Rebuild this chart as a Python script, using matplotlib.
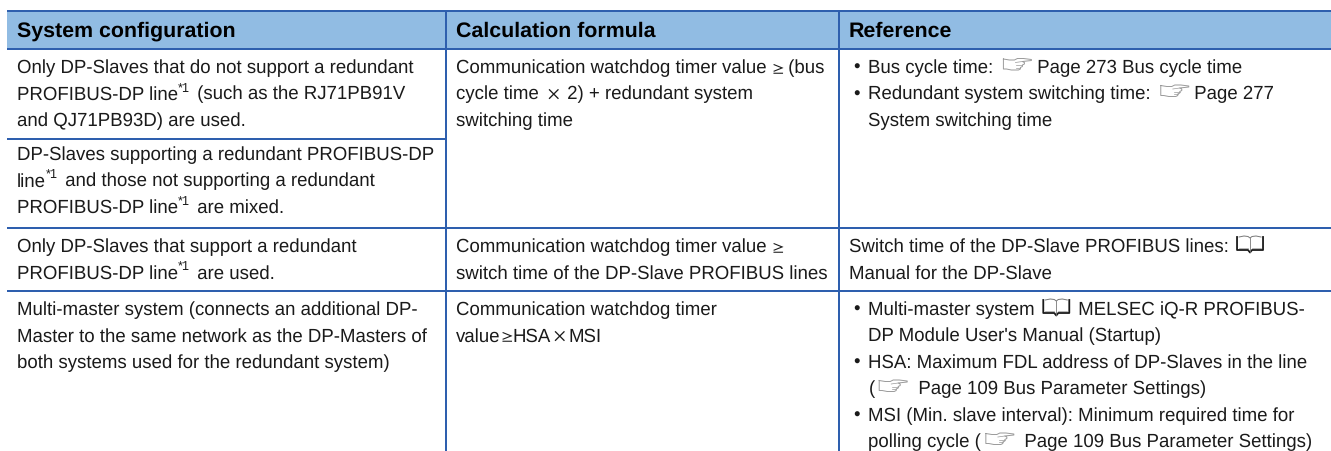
import re
import matplotlib
matplotlib.use('Agg')
import matplotlib.pyplot as plt
from matplotlib.font_manager import FontProperties

plt.rcParams['text.hinting'] = 'none'

# table contents, one list of wrapped lines per cell
headers = ['System configuration', 'Calculation formula', 'Reference']

config_cells = [
    ['Only DP-Slaves that do not support a redundant',
     'PROFIBUS-DP line*1 (such as the RJ71PB91V',
     'and QJ71PB93D) are used.'],
    ['DP-Slaves supporting a redundant PROFIBUS-DP',
     'line*1 and those not supporting a redundant',
     'PROFIBUS-DP line*1 are mixed.'],
    ['Only DP-Slaves that support a redundant',
     'PROFIBUS-DP line*1 are used.'],
    ['Multi-master system (connects an additional DP-',
     'Master to the same network as the DP-Masters of',
     'both systems used for the redundant system)'],
]
formula_cells = [
    ['Communication watchdog timer value ≥ (bus',
     'cycle time × 2) + redundant system',
     'switching time'],
    ['Communication watchdog timer value ≥',
     'switch time of the DP-Slave PROFIBUS lines'],
    ['Communication watchdog timer',
     'value≥HSA×MSI'],
]
reference_cells = [
    ['• Bus cycle time: ☞ Page 273 Bus cycle time',
     '• Redundant system switching time: ☞ Page 277',
     '  System switching time'],
    ['Switch time of the DP-Slave PROFIBUS lines: 📖',
     'Manual for the DP-Slave'],
    ['• Multi-master system 📖 MELSEC iQ-R PROFIBUS-',
     '  DP Module User\'s Manual (Startup)',
     '• HSA: Maximum FDL address of DP-Slaves in the line',
     '  (☞  Page 109 Bus Parameter Settings)',
     '• MSI (Min. slave interval): Minimum required time for',
     '  polling cycle (☞  Page 109 Bus Parameter Settings)'],
]

W, H = 1331, 452
LINE_COLOR = '#2E5FAE'
HEAD_COLOR = '#91BCE3'
TEXT_COLOR = '#1A1A1A'
BODY_PX = 18.65
HEAD_PX = 21.4
LINE_STEP = 26.5

fig = plt.figure(figsize=(W / 100, H / 100), dpi=100)
ax = fig.add_axes([0, 0, 1, 1])
ax.set_xlim(0, W)
ax.set_ylim(H, 0)
ax.axis('off')

renderer = fig.canvas.get_renderer()
px = 0.72  # pixels to points at 100 dpi
body_font = FontProperties(family='Liberation Sans', size=BODY_PX * px)
ge_font = FontProperties(family='Noto Sans CJK JP', size=12.5 * px)
times_font = FontProperties(family='Noto Sans CJK JP', size=15.5 * px)
sup_font = FontProperties(family='Liberation Sans', size=12.7 * px)


def text_width(s, font):
    # a dot on the end so trailing spaces are counted
    w1 = renderer.get_text_width_height_descent(s + '.', font, False)[0]
    w2 = renderer.get_text_width_height_descent('.', font, False)[0]
    return w1 - w2


def draw_hand(x, base):
    # outline of the pointing hand, 28 px wide and 12 px tall
    xs = [0, 6, 11, 14, 20, 28, 28, 19, 21, 21, 19, 19, 17, 17, 15, 8, 3, 0, 0]
    ys = [-13, -12, -12, -13.5, -13.5, -12.5, -11.5, -10.5, -9.5, -8, -7, -5.5, -4.5, -3, -2, -2, -3, -3, -13]
    ax.plot([x + a for a in xs], [base + b for b in ys], color='#9A9A9A', lw=0.7)
    ax.plot([x + 12, x + 19], [base - 9.5, base - 10.5], color='#9A9A9A', lw=0.5)
    ax.plot([x + 13, x + 19], [base - 7, base - 7], color='#9A9A9A', lw=0.5)
    ax.plot([x + 13, x + 17], [base - 4.5, base - 4.5], color='#9A9A9A', lw=0.5)


def draw_book(x, base):
    # open book, 28 px wide
    xs = [1, 1, 12, 14, 16, 27, 27]
    ys = [-14, -1, -1, 1.5, -1, -1, -14]
    ax.plot([x + a for a in xs], [base + b for b in ys], color='#1A1A1A', lw=1.3)
    ax.plot([x + 3, x + 8, x + 12, x + 14, x + 16, x + 20, x + 25],
            [base - 14, base - 15, base - 14.5, base - 13, base - 14.5, base - 15, base - 14],
            color='#777777', lw=0.7)
    ax.plot([x + 14, x + 14], [base - 13, base + 1], color='#777777', lw=0.6)
    ax.plot([x + 3, x + 12], [base - 3, base - 3], color='#999999', lw=0.5)
    ax.plot([x + 16, x + 25], [base - 3, base - 3], color='#999999', lw=0.5)


def draw_line(x, base, line):
    # split off the parts that are not plain text
    for part in re.split(r'(\*1|☞|📖|≥|×)', line):
        if part == '':
            continue
        if part == '*1':
            ax.text(x, base - 8, part, fontproperties=sup_font, color=TEXT_COLOR, va='baseline')
            x += text_width(part, sup_font) + 2
        elif part == '☞':
            draw_hand(x + 4.5, base)
            x += 33
        elif part == '📖':
            draw_book(x + 2, base)
            x += 33
        elif part == '≥':
            ax.text(x, base, part, fontproperties=ge_font, color=TEXT_COLOR, va='baseline')
            x += 11.5
        elif part == '×':
            ax.text(x + 1, base, part, fontproperties=times_font, color=TEXT_COLOR, va='baseline')
            x += 18
        else:
            ax.text(x, base, part, fontproperties=body_font, color=TEXT_COLOR, va='baseline')
            x += text_width(part, body_font)


def draw_cell(x, first_base, lines, bullet_indent=19.5):
    for i, line in enumerate(lines):
        base = first_base + i * LINE_STEP
        if line.startswith('• '):
            ax.text(x + 4.5, base, '•', fontproperties=body_font, color=TEXT_COLOR, va='baseline')
            draw_line(x + bullet_indent, base, line[2:])
        elif line.startswith('  '):
            draw_line(x + bullet_indent, base, line[2:])
        else:
            draw_line(x, base, line)


# header band and rules
ax.fill_between([7, W], 12, 50, color=HEAD_COLOR, lw=0)
col_x = [17, 456, 849]
for x, h in zip(col_x, headers):
    ax.text(x, 36.5, h, family='Liberation Sans', weight='bold', size=HEAD_PX * px,
            color='black', va='baseline')

lw = 2 * px
for y in [12, 50, 229, 292]:
    ax.plot([7, W], [y, y], color=LINE_COLOR, lw=lw, solid_capstyle='butt')
ax.plot([7, 446], [140, 140], color=LINE_COLOR, lw=lw, solid_capstyle='butt')
for x in [445.5, 839]:
    ax.plot([x, x], [12, H], color=LINE_COLOR, lw=lw, solid_capstyle='butt')

# first baseline of each cell
config_bases = [73, 160, 252, 315]
other_bases = [73, 252, 315]

for cell, b in zip(config_cells, config_bases):
    draw_cell(col_x[0], b, cell)
for cell, b in zip(formula_cells, other_bases):
    draw_cell(col_x[1], b, cell)
for cell, b in zip(reference_cells, other_bases):
    draw_cell(col_x[2], b, cell)

fig.savefig('out.png', dpi=100)
